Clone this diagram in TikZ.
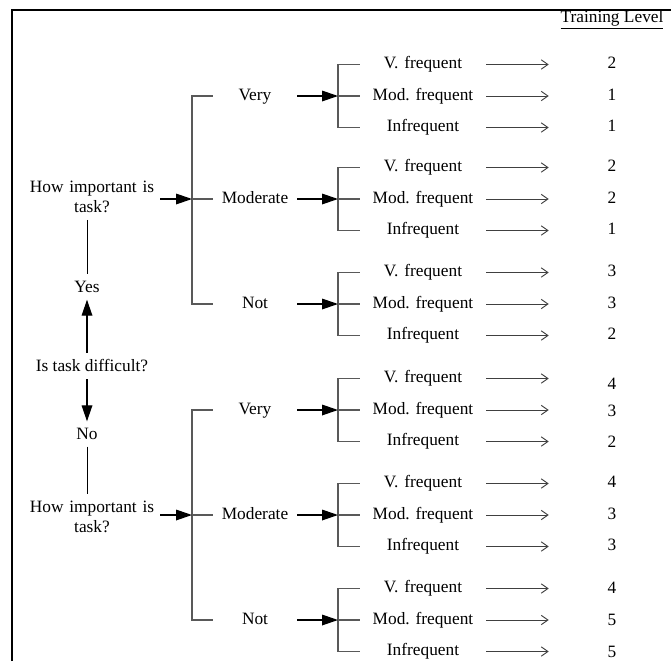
\documentclass[tikz,border=0pt]{standalone}
\usepackage{fontspec}
\setmainfont{Liberation Serif}
\usetikzlibrary{arrows.meta}
\frenchspacing

\begin{document}
\begin{tikzpicture}[x=0.75pt,y=-0.75pt,
  every node/.style={font=\fontsize{13}{15}\selectfont},
  question/.style={align=center,text width=102pt,inner xsep=0pt,inner ysep=5pt},
  answer/.style={inner sep=5pt},
  choice/.style={align=center,text width=63pt,inner xsep=0pt,text height=9pt,text depth=3pt},
  freq/.style={align=center,text width=94.5pt,inner xsep=0pt,text height=9pt,text depth=3pt},
  score/.style={align=center,text width=94.5pt,inner xsep=0pt,text height=9pt,text depth=3pt},
  bracket/.style={draw=black!65,line width=0.9pt},
  big_arrow/.style={line width=0.9pt,-{Triangle[length=12pt,width=8pt]}},
  thin_arrow/.style={draw=black!75,line width=0.7pt,-{Straight Barb[length=5pt,width=7pt]}},
  link/.style={line width=0.7pt}]
    \useasboundingbox (0,0) rectangle (671,661);
    % Frame
    \draw[line width=1.5pt] (12,661) |- (671,10);
    \node (head) at (612,20) {\underline{Training Level}};
    % Questions on the left
    \node[question] (imp1) at (92,197) {How important is\\task?};
    \node[answer] (yes) at (87,287) {Yes};
    \node[answer] (diff) at (92,366) {Is task difficult?};
    \node[answer] (no) at (87,434) {No};
    \node[question] (imp2) at (92,517) {How important is\\task?};
    \draw[link] (imp1.south -| yes) -- (yes);
    \draw[big_arrow] (diff.north -| yes) -- (yes);
    \draw[big_arrow] (diff.south -| no) -- (no);
    \draw[link] (no) -- (imp2.north -| no);
    % Importance and frequency
    \foreach \g/\c/\txt in {1/96/Very,2/199/Moderate,3/304/Not,4/410/Very,5/515/Moderate,6/620/Not}{
      \node[choice] (c\g) at (255,\c) {\txt};
      \node[freq] (f\g1) at (423,{\c-31.5}) {V. frequent};
      \node[freq] (f\g2) at (423,\c) {Mod. frequent};
      \node[freq] (f\g3) at (423,{\c+31.5}) {Infrequent};
      \coordinate (k\g) at (338,{\c+31.5});
      \draw[bracket] (f\g1.west) -| (k\g) -- (f\g3.west);
      \draw[bracket] (f\g2.west) -- (f\g2.west -| k\g);
      \draw[big_arrow] (c\g.east) -- (c\g -| k\g);
    }
    \coordinate (b1) at (192,304);
    \coordinate (b2) at (192,620);
    \draw[bracket] (c1.west) -| (b1) -- (c3.west);
    \draw[bracket] (c2.west) -- (c2.west -| b1);
    \draw[big_arrow] (imp1.east |- c2) -- (c2 -| b1);
    \draw[bracket] (c4.west) -| (b2) -- (c6.west);
    \draw[bracket] (c5.west) -- (c5.west -| b2);
    \draw[big_arrow] (imp2.east |- c5) -- (c5 -| b2);
    % Training levels
    \foreach \r/\n/\y in {11/2/64.5,12/1/96,13/1/127.5,
        21/2/167.5,22/2/199,23/1/230.5,
        31/3/272.5,32/3/304,33/2/335.5,
        41/4/385,42/3/412,43/2/443,
        51/4/483.5,52/3/515,53/3/546.5,
        61/4/589,62/5/621,63/5/653}{
      \node[score] (n\r) at (612,\y) {\n};
      \draw[thin_arrow] (f\r.east) -- (f\r.east -| n\r.west);
    }
\end{tikzpicture}
\end{document}
